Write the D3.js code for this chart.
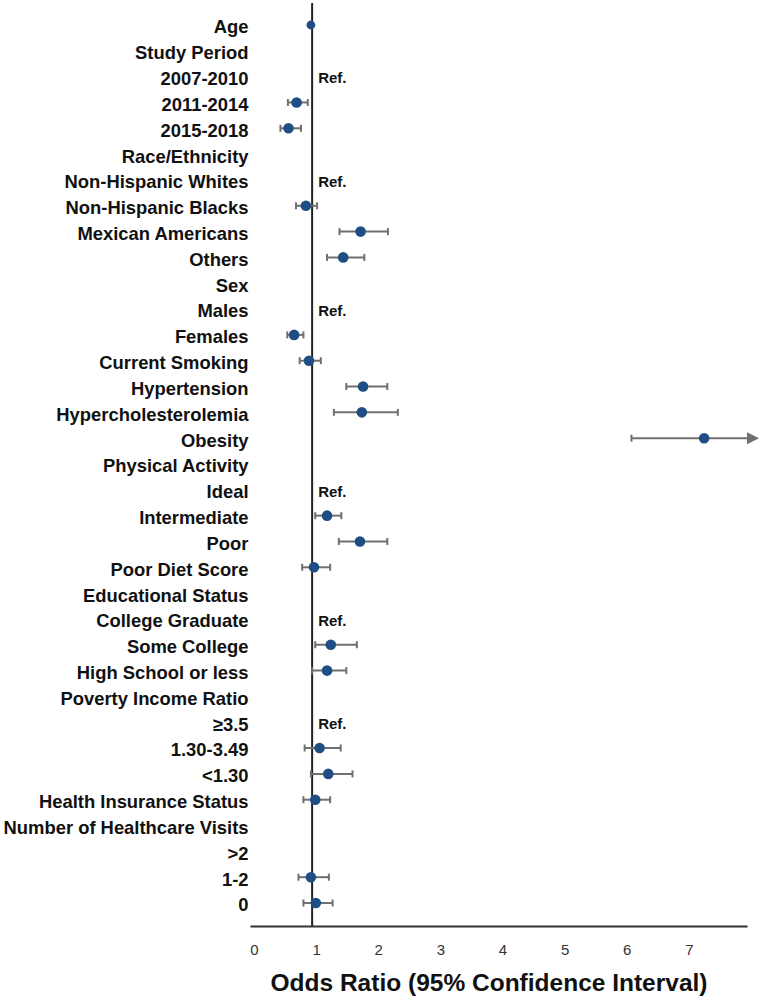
<!DOCTYPE html>
<html><head><meta charset="utf-8">
<script src="https://cdn.jsdelivr.net/npm/d3@7"></script>
<style>body{margin:0;background:#fff}svg{display:block}</style>
</head><body>
<svg id="c" width="764" height="1000"></svg>
<script>
const categories = ["Age","Study Period","2007-2010","2011-2014","2015-2018","Race/Ethnicity","Non-Hispanic Whites","Non-Hispanic Blacks","Mexican Americans","Others","Sex","Males","Females","Current Smoking","Hypertension","Hypercholesterolemia","Obesity","Physical Activity","Ideal","Intermediate","Poor","Poor Diet Score","Educational Status","College Graduate","Some College","High School or less","Poverty Income Ratio","≥3.5","1.30-3.49","<1.30","Health Insurance Status","Number of Healthcare Visits",">2","1-2","0"];
const oddsRatio = [0.98,null,null,0.75,0.62,null,null,0.90,1.78,1.50,null,null,0.71,0.95,1.82,1.80,7.31,null,null,1.24,1.77,1.03,null,null,1.30,1.24,null,null,1.12,1.26,1.05,null,null,0.98,1.06];
const ciLower = [0.97,null,null,0.61,0.49,null,null,0.74,1.44,1.24,null,null,0.60,0.80,1.55,1.35,6.14,null,null,1.05,1.43,0.84,null,null,1.05,1.00,null,null,0.88,0.98,0.86,null,null,0.78,0.86];
const ciUpper = [0.99,null,null,0.93,0.82,null,null,1.08,2.22,1.84,null,null,0.86,1.14,2.21,2.38,9.50,null,null,1.47,2.21,1.29,null,null,1.72,1.55,null,null,1.46,1.65,1.29,null,null,1.27,1.33];
const refCategories = ["2007-2010","Non-Hispanic Whites","Males","Ideal","College Graduate","≥3.5"];
const tickValues = [0,1,2,3,4,5,6,7];
const axisTitle = "Odds Ratio (95% Confidence Interval)";

const svg = d3.select("#c");
const xMax = 8;
const x = d3.scaleLinear().domain([0, xMax]).range([250, 747]);
const y = d3.scalePoint().domain(categories).range([25, 903]);
const axisY = 926;
const rows = categories.map((c,i)=>({c, or:oddsRatio[i], lo:ciLower[i], hi:ciUpper[i]}));

// labels
svg.append("g").selectAll("text").data(categories).join("text")
  .attr("x", 248.5).attr("y", d=>y(d)+2).attr("dy","0.35em")
  .attr("text-anchor","end")
  .style("font-family","'Liberation Sans', Arial, sans-serif")
  .style("font-weight","bold").style("font-size","18.4px").attr("fill","#111")
  .text(d=>d);

// axis
const axis = d3.axisBottom(x).tickValues(tickValues).tickSize(0).tickPadding(18).tickFormat(d3.format("d"));
const gA = svg.append("g").attr("transform",`translate(0,${axisY})`).call(axis);
gA.attr("font-size", null);
gA.select(".domain").attr("stroke","#333").attr("stroke-width",2);
gA.selectAll(".tick text").attr("dx",4)
  .style("font-family","'Liberation Sans', Arial, sans-serif").style("font-size","15px").attr("fill","#333");

svg.append("text").attr("x", 489).attr("y", 991)
  .attr("text-anchor","middle")
  .style("font-family","'Liberation Sans', Arial, sans-serif")
  .style("font-weight","bold").style("font-size","24.5px").attr("fill","#111")
  .text(axisTitle);

// reference line at OR = 1
svg.append("line").attr("x1",x(1)).attr("x2",x(1)).attr("y1",3).attr("y2",axisY)
  .attr("stroke","#222").attr("stroke-width",2);

// Ref. labels
svg.append("g").selectAll("text").data(refCategories).join("text")
  .attr("x", x(1)+6).attr("y", d=>y(d)+1.5).attr("dy","0.35em")
  .style("font-family","'Liberation Sans', Arial, sans-serif")
  .style("font-weight","bold").style("font-size","15px").attr("fill","#111")
  .text("Ref.");

// CI
const est = rows.filter(r=>r.or!==null);
const ciCol = "#707070";
const g = svg.append("g");
est.forEach(r=>{
  const yy = y(r.c);
  const hiC = Math.min(r.hi, xMax);
  if (r.hi - r.lo > 0.05) {
    g.append("line").attr("x1",x(r.lo)).attr("x2",x(hiC)).attr("y1",yy).attr("y2",yy)
      .attr("stroke",ciCol).attr("stroke-width",2);
    g.append("line").attr("x1",x(r.lo)).attr("x2",x(r.lo)).attr("y1",yy-3.5).attr("y2",yy+3.5)
      .attr("stroke",ciCol).attr("stroke-width",2);
    if (r.hi <= xMax) {
      g.append("line").attr("x1",x(hiC)).attr("x2",x(hiC)).attr("y1",yy-3.5).attr("y2",yy+3.5)
        .attr("stroke",ciCol).attr("stroke-width",2);
    } else {
      const ax = x(xMax);
      g.append("path").attr("d",`M${ax},${yy-6}L${ax+12},${yy}L${ax},${yy+6}Z`).attr("fill",ciCol);
    }
  }
});
g.selectAll("circle").data(est).join("circle")
  .attr("cx",d=>x(d.or)).attr("cy",d=>y(d.c))
  .attr("r",d=>(d.hi-d.lo>0.05)?5.3:4.4)
  .attr("fill","#1f4e85");
</script>
</body></html>
